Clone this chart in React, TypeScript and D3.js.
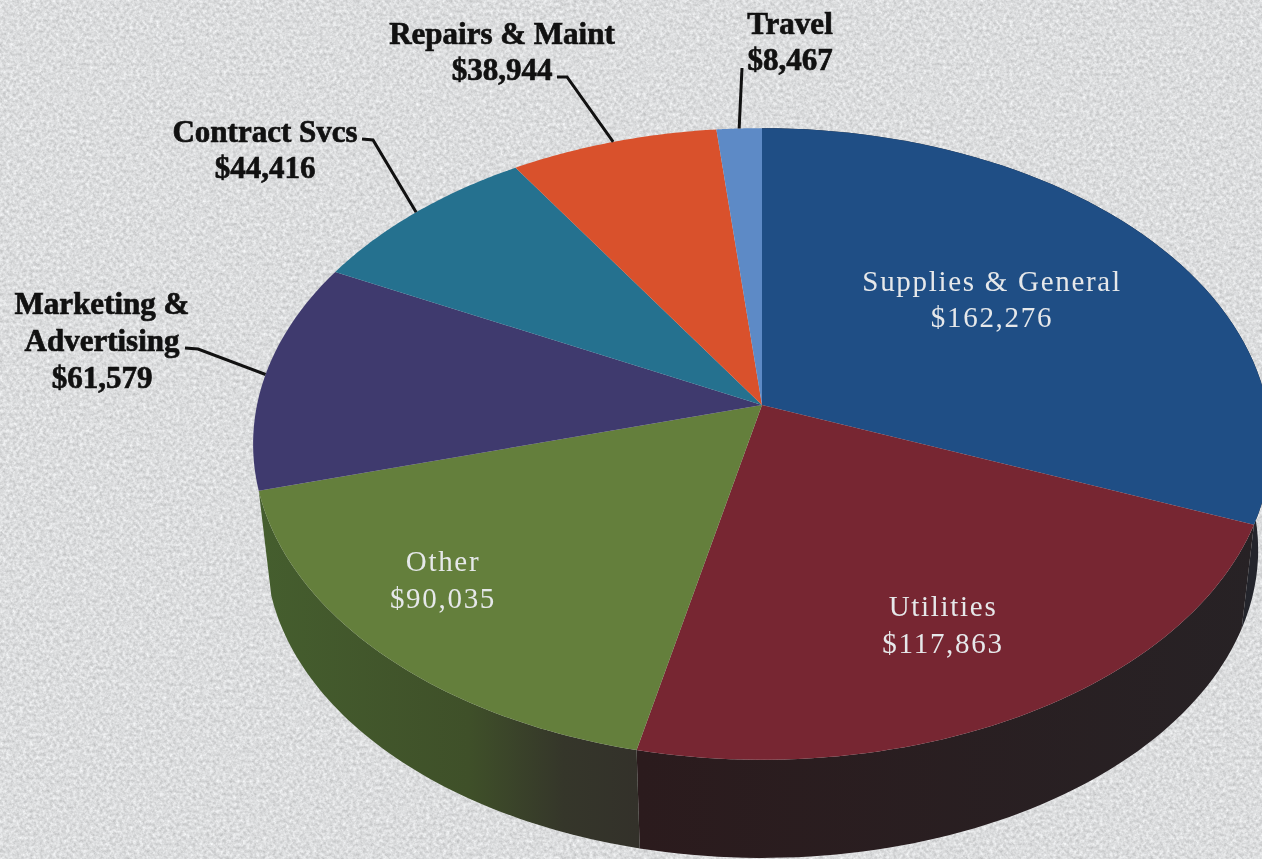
import React from "react";
import * as d3 from "d3";

const categories = ["Supplies & General", "Utilities", "Other", "Marketing & Advertising", "Contract Svcs", "Repairs & Maint", "Travel"];
const values = [162276, 117863, 90035, 61579, 44416, 38944, 8467];
const topColors = ["#1f4e85", "#772632", "#647f3c", "#3f3a6e", "#25718f", "#d9512c", "#5d8ac6"];
const labelLines = [["Supplies & General"], ["Utilities"], ["Other"], ["Marketing &", "Advertising"], ["Contract Svcs"], ["Repairs & Maint"], ["Travel"]];

const W = 1262, H = 859;
const apex = { x: 762, y: 405 };
const proj = { a: 505, b: 311, k: 0.1234 };
const wall = { scale: 0.975, dy: 107 };

// label layout: x centre, first baseline, line step
const layout = [
  { x: 992, y: 291, step: 36 },
  { x: 943, y: 616, step: 37 },
  { x: 443, y: 571, step: 37 },
  { x: 102, y: 314, step: 37 },
  { x: 265, y: 142, step: 36 },
  { x: 502, y: 44, step: 36 },
  { x: 790, y: 34, step: 36 },
];
// leader start and elbow per outside label
const leaders: Record<number, [number, number][]> = {
  3: [[185, 348], [198, 349]],
  4: [[362, 139], [373, 140]],
  5: [[557, 77], [567, 77]],
  6: [[742, 68]],
};

const project = (theta: number, scale = 1, dy = 0): [number, number] => {
  const u = Math.sin(theta), v = Math.cos(theta);
  const den = 1 + proj.k * v;
  return [apex.x + (scale * proj.a * u) / den, apex.y + dy - (scale * proj.b * v) / den];
};

const arcPts = (a0: number, a1: number, scale = 1, dy = 0) =>
  d3.range(0, 61).map((i) => project(a0 + ((a1 - a0) * i) / 60, scale, dy));

const line = d3.line<[number, number]>().x((d) => d[0]).y((d) => d[1]);

const money = (v: number) => "$" + d3.format(",")(v);

export default function App() {
  const arcs = d3.pie<number>().sort(null)(values);
  return (
    <svg width={W} height={H} viewBox={`0 0 ${W} ${H}`} style={{ position: "fixed", left: 0, top: 0, display: "block" }}>
      <defs>
        <filter id="paper" x="0" y="0" width="100%" height="100%" colorInterpolationFilters="sRGB">
          <feTurbulence type="fractalNoise" baseFrequency="0.3" numOctaves="4" seed="7" />
          <feColorMatrix type="matrix" values="0.28 0 0 0 0.72  0.28 0 0 0 0.725  0.28 0 0 0 0.73  0 0 0 0 1" />
        </filter>
        <linearGradient id="wallOther" gradientUnits="userSpaceOnUse" x1="258" x2="640" y1="0" y2="0">
          <stop offset="0" stopColor="#455e2e" />
          <stop offset="0.55" stopColor="#3f5029" />
          <stop offset="0.8" stopColor="#35362a" />
          <stop offset="1" stopColor="#33312a" />
        </linearGradient>
        <linearGradient id="wallUtil" gradientUnits="userSpaceOnUse" x1="640" x2="1260" y1="0" y2="0">
          <stop offset="0" stopColor="#2b1b1d" />
          <stop offset="1" stopColor="#272225" />
        </linearGradient>
      </defs>
      <rect width={W} height={H} filter="url(#paper)" />
      <g>
        {arcs.slice(0, 3).map((s, i) => {
          const top = arcPts(s.startAngle, s.endAngle);
          const bot = arcPts(s.startAngle, s.endAngle, wall.scale, wall.dy).reverse();
          const fill = i === 0 ? "#24252c" : i === 1 ? "url(#wallUtil)" : "url(#wallOther)";
          return <path key={i} d={line([...top, ...bot])! + "Z"} fill={fill} />;
        })}
      </g>
      <g>
        {arcs.map((s, i) => (
          <path
            key={i}
            d={line([[apex.x, apex.y], ...arcPts(s.startAngle, s.endAngle)])! + "Z"}
            fill={topColors[i]}
          />
        ))}
      </g>
      <g fill="none" stroke="#111" strokeWidth={3}>
        {arcs.map((s, i) =>
          leaders[i] ? (
            <path key={i} d={line([...leaders[i], project((s.startAngle + s.endAngle) / 2)])!} />
          ) : null
        )}
      </g>
      <g textAnchor="middle" fontFamily="'Liberation Serif', serif">
        {categories.map((c, i) => {
          const outer = i >= 3;
          const lines = [...labelLines[i], money(values[i])];
          return (
            <text
              key={c}
              fill={outer ? "#111" : "#e6e8ea"}
              fontSize={outer ? 31 : 29}
              fontWeight={outer ? 700 : 400}
              letterSpacing={outer ? 0 : 1.7}
              stroke={outer ? "#111" : "none"}
              strokeWidth={outer ? 0.7 : 0}
            >
              {lines.map((t, j) => (
                <tspan key={j} x={layout[i].x} y={layout[i].y + j * layout[i].step}>
                  {t}
                </tspan>
              ))}
            </text>
          );
        })}
      </g>
    </svg>
  );
}
